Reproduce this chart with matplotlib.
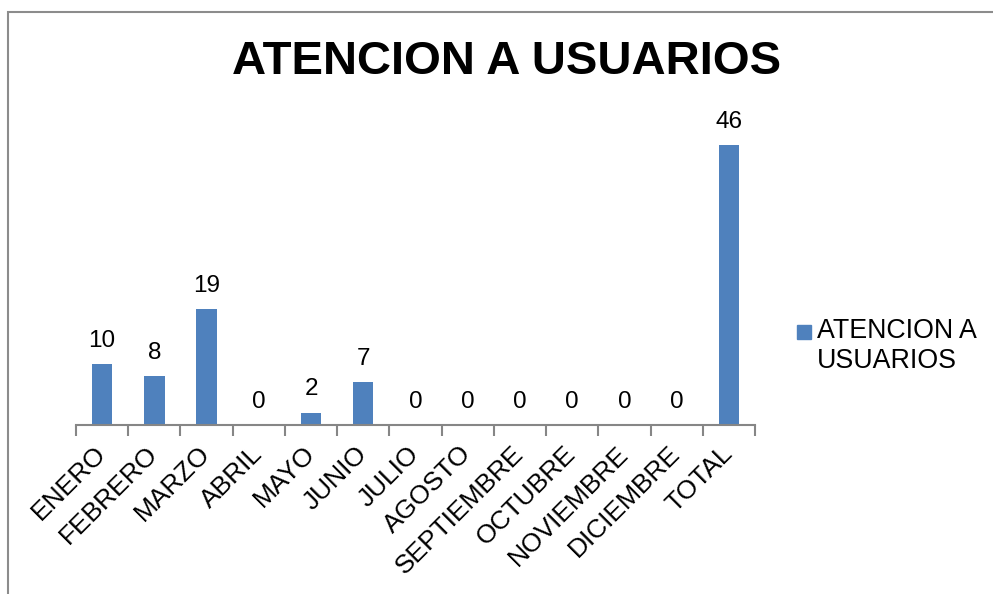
import numpy as np
import matplotlib.pyplot as plt
from matplotlib.patches import Rectangle

# Data
MESES = ['ENERO', 'FEBRERO', 'MARZO', 'ABRIL', 'MAYO', 'JUNIO', 'JULIO',
         'AGOSTO', 'SEPTIEMBRE', 'OCTUBRE', 'NOVIEMBRE', 'DICIEMBRE', 'TOTAL']
VALORES = [10, 8, 19, 0, 2, 7, 0, 0, 0, 0, 0, 0, 46]
SERIE = 'ATENCION A\nUSUARIOS'
TITULO = 'ATENCION A USUARIOS'

BAR_COLOR = '#4F81BD'
AXIS_COLOR = '#868686'

plt.rcParams['font.family'] = ['Liberation Sans', 'DejaVu Sans']

W, H = 993, 594
fig = plt.figure(figsize=(W / 100, H / 100), dpi=100)

# outer chart border (only left/top visible in the crop)
fig.patches.append(Rectangle((8 / W, -0.1), 1.2, 1.1 - 12 / H,
                             transform=fig.transFigure, fill=False,
                             edgecolor='#8c8c8c', linewidth=1.5))

ax = fig.add_axes([76 / W, (H - 425) / H, 679 / W, 304 / H])
x = np.arange(len(MESES))
bars = ax.bar(x, VALORES, width=0.39, color=BAR_COLOR, zorder=2)
ax.bar_label(bars, padding=9, fontsize=17.5)

ax.set_xlim(-0.5, len(MESES) - 0.5)
ax.set_ylim(0, 50)

for s in ['top', 'right', 'left']:
    ax.spines[s].set_visible(False)
ax.spines['bottom'].set_color(AXIS_COLOR)
ax.spines['bottom'].set_linewidth(1.5)
ax.set_yticks([])

ax.set_xticks(x)
ax.set_xticklabels(MESES, rotation=45, ha='right', va='center',
                   rotation_mode='anchor', fontsize=19)
ax.tick_params(axis='x', which='major', length=0, pad=18)
ax.set_xticks(np.arange(-0.5, len(MESES)), minor=True)
ax.tick_params(axis='x', which='minor', length=8, width=1.5, color=AXIS_COLOR)

fig.text(507 / W, 1 - 62 / H, TITULO, ha='center', va='center',
         fontsize=34, fontweight='bold')

# legend drawn by hand so the key sits on the first text line
fig.patches.append(Rectangle((797 / W, 1 - 339 / H), 14 / W, 14 / H,
                             transform=fig.transFigure, color=BAR_COLOR))
fig.text(817 / W, 1 - 318 / H, SERIE, ha='left', va='top',
         fontsize=19.3, linespacing=1.22)

fig.savefig('out.png', dpi=100)
